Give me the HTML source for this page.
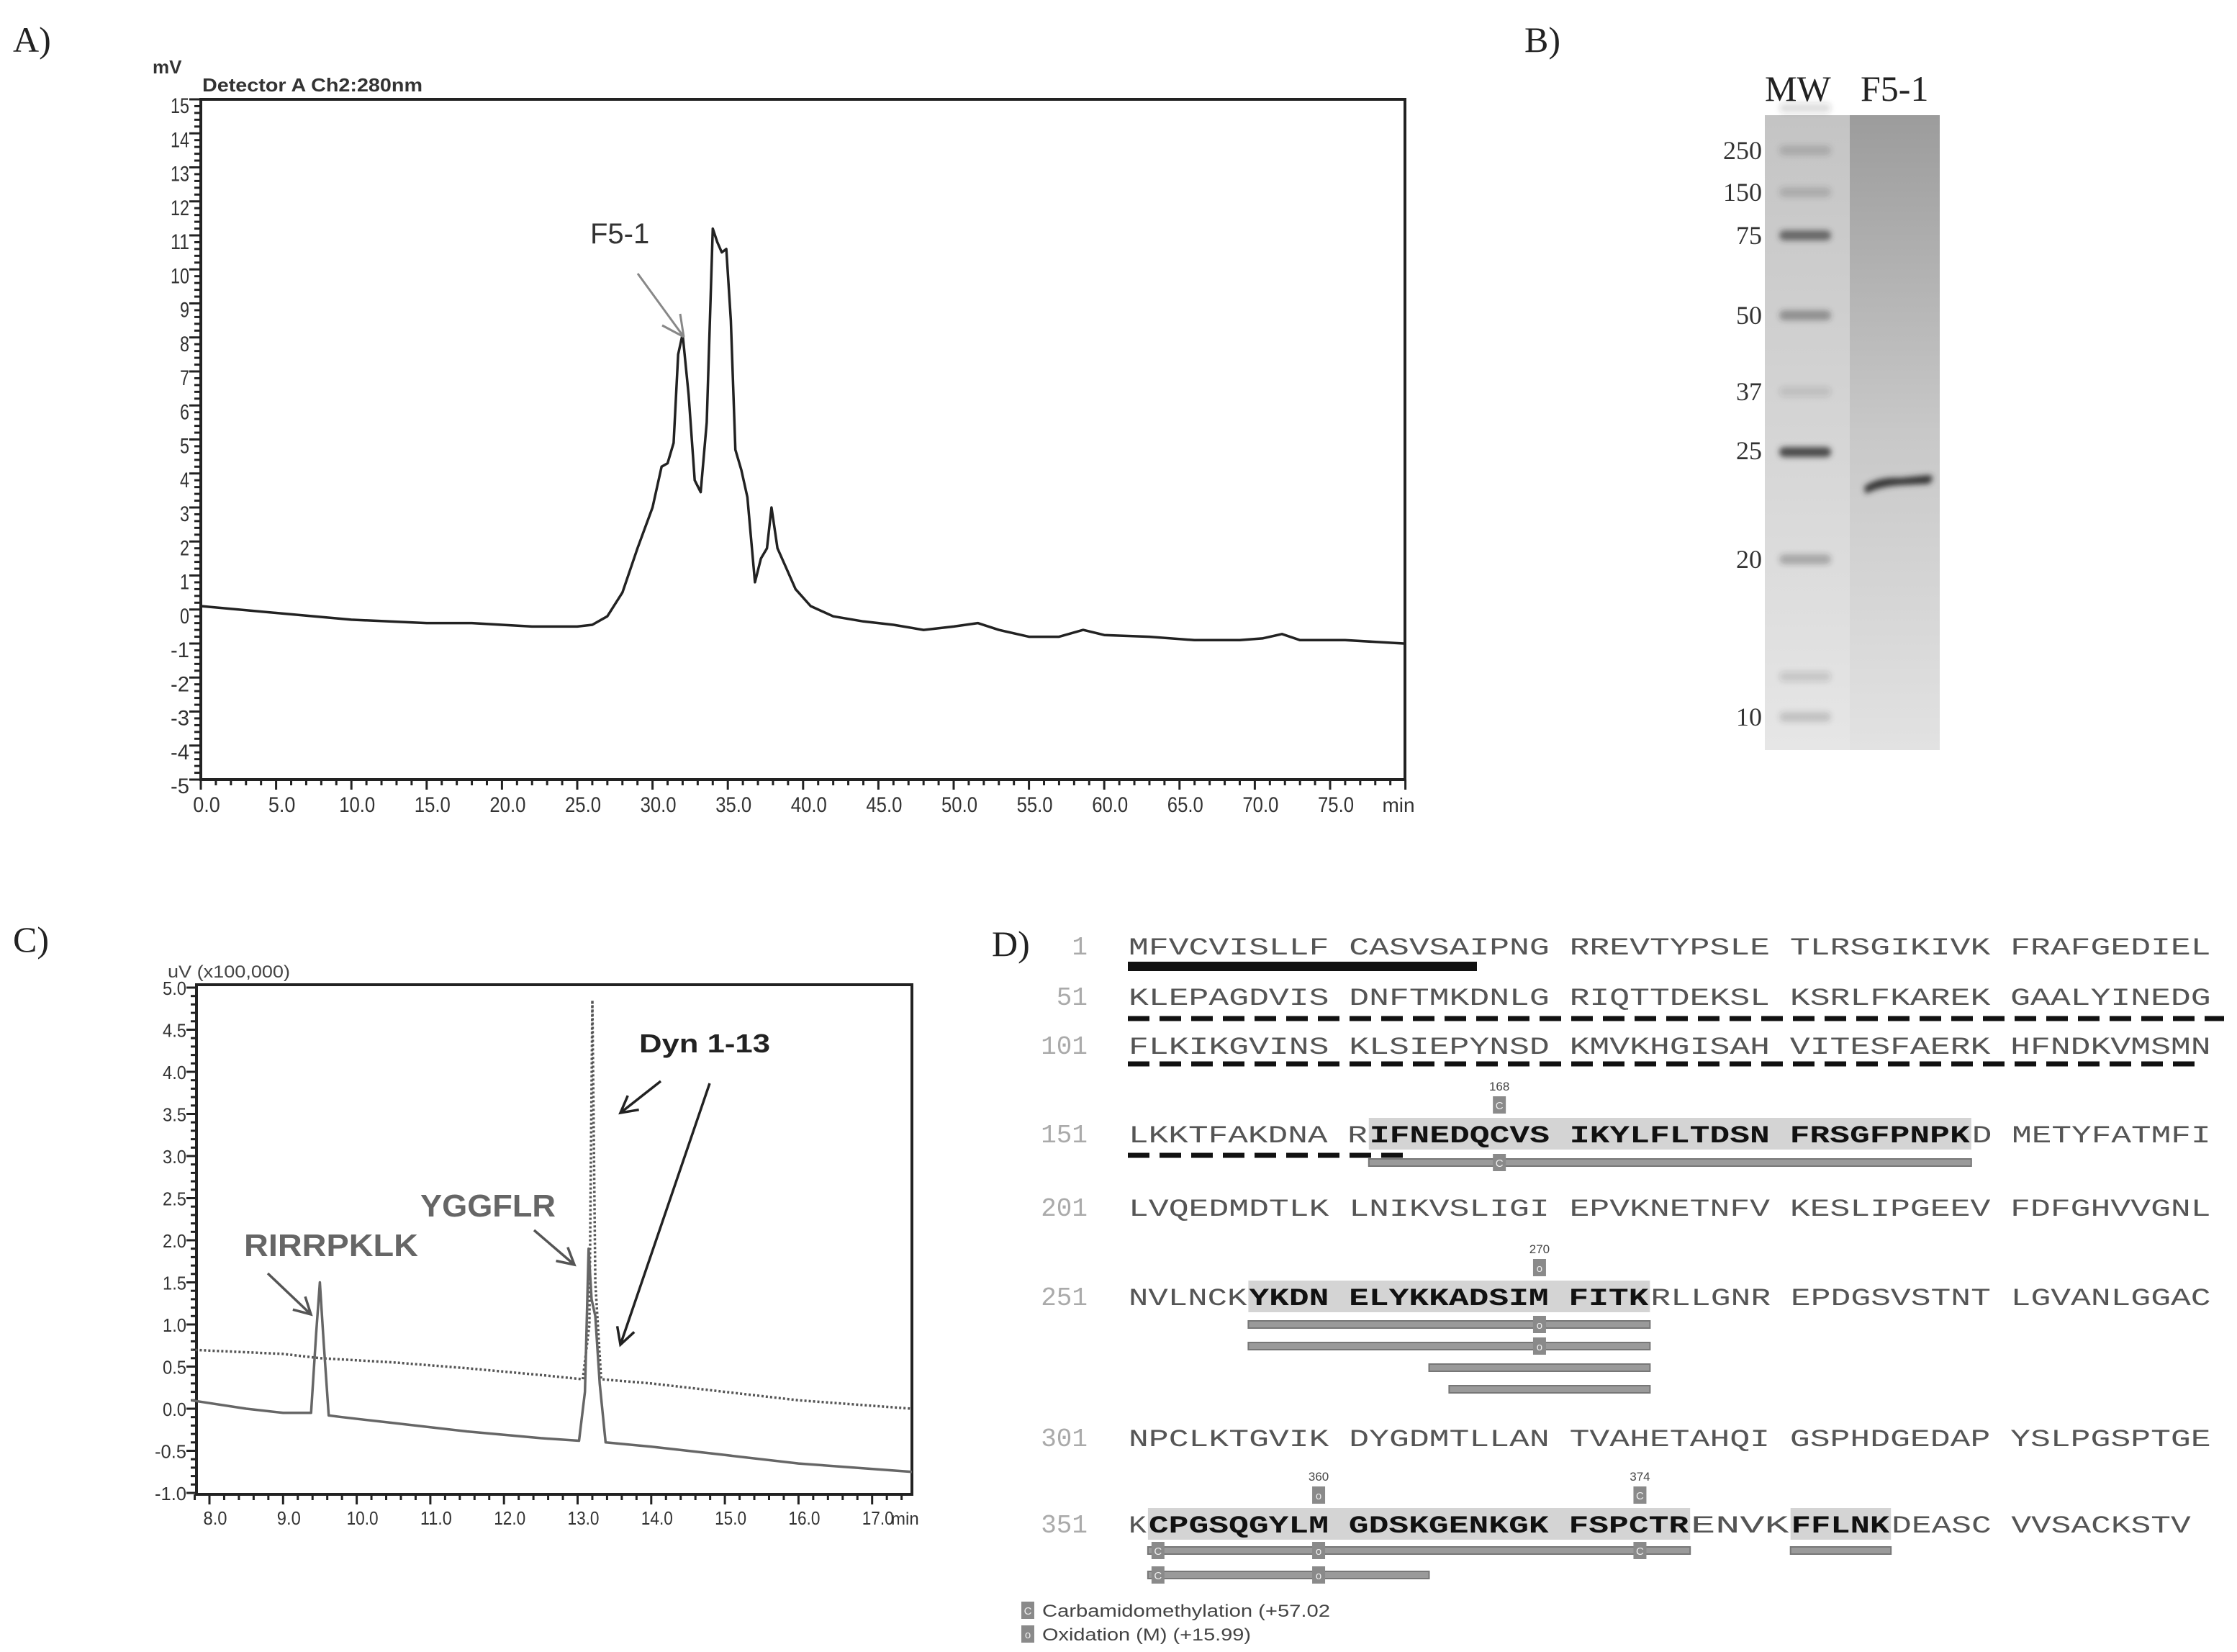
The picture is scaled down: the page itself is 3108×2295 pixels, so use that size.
<!DOCTYPE html>
<html><head><meta charset="utf-8"><style>
html,body{margin:0;padding:0;background:#fff;}
svg{display:block;}
</style></head><body>
<svg id="fig" xmlns="http://www.w3.org/2000/svg" width="3108" height="2295" viewBox="0 0 3108 2295">
<defs>
<linearGradient id="gMW" x1="0" y1="0" x2="0" y2="1"><stop offset="0" stop-color="#c4c4c4"/><stop offset="1" stop-color="#e6e6e6"/></linearGradient>
<linearGradient id="gF5" x1="0" y1="0" x2="0" y2="1"><stop offset="0" stop-color="#9c9c9c"/><stop offset="0.5" stop-color="#c8c8c8"/><stop offset="1" stop-color="#e2e2e2"/></linearGradient>
<filter id="blur" x="-20%" y="-100%" width="140%" height="300%"><feGaussianBlur stdDeviation="4"/></filter>
</defs>
<g id="panelA"></g>
<g id="panelB"></g>
<g id="panelC"></g>
<g id="panelD"></g>
</svg>
<script>
// ---------- Panel A data ----------
const aTimes = [0,5,10,15,18,20,22,25,26,27,28,29,30,30.6,31,31.4,31.7,32,32.4,32.8,33.2,33.6,34,34.3,34.6,34.9,35.2,35.5,35.9,36.3,36.8,37.2,37.6,37.9,38.3,38.8,39.5,40.5,42,44,46,48,50,51.6,53,55,57,58.6,60,63,66,69,70.5,71.8,73,76,79.9];
const aValues = [0.1,-0.1,-0.3,-0.4,-0.4,-0.45,-0.5,-0.5,-0.45,-0.2,0.5,1.8,3.0,4.2,4.3,4.9,7.5,8.1,6.3,3.8,3.45,5.5,11.2,10.8,10.5,10.6,8.5,4.7,4.1,3.3,0.8,1.5,1.8,3.0,1.8,1.3,0.6,0.1,-0.2,-0.35,-0.45,-0.6,-0.5,-0.4,-0.6,-0.8,-0.8,-0.6,-0.75,-0.8,-0.9,-0.9,-0.85,-0.72,-0.9,-0.9,-1.0];
const aYTicks = [-5,-4,-3,-2,-1,0,1,2,3,4,5,6,7,8,9,10,11,12,13,14,15];
const aXTicks = [0,5,10,15,20,25,30,35,40,45,50,55,60,65,70,75];
// ---------- Panel B data ----------
const mwLabels = ["250","150","75","50","37","25","20","10"];
const mwLabelY = [209,267,327,438,544,626,777,996];
const mwBandY = [150,209,267,327,438,544,628,777,940,996];
const mwBandOpacity = [0.15,0.2,0.2,0.65,0.4,0.12,0.85,0.3,0.15,0.2];
// ---------- Panel C data ----------
const cTimes = [7.75,8.5,9.0,9.38,9.45,9.5,9.55,9.62,9.8,10.5,11.5,12.5,13.02,13.1,13.15,13.19,13.24,13.3,13.38,14,15,16,17.55];
const cSolid = [0.1,0.0,-0.05,-0.05,0.9,1.5,0.8,-0.08,-0.1,-0.17,-0.27,-0.35,-0.38,0.2,1.9,1.3,1.1,0.3,-0.4,-0.45,-0.55,-0.65,-0.75];
const cDotTimes = [7.75,9.0,9.5,10.5,11.5,12.5,13.07,13.16,13.2,13.24,13.32,14,15,16,17.55];
const cDotted = [0.7,0.65,0.6,0.55,0.48,0.4,0.35,1.0,4.85,1.5,0.35,0.3,0.2,0.1,0.0];
const cYTicks = [-1.0,-0.5,0.0,0.5,1.0,1.5,2.0,2.5,3.0,3.5,4.0,4.5,5.0];
const cXTicks = [8,9,10,11,12,13,14,15,16,17];
// ---------- Panel D data ----------
const seqNums = ["1","51","101","151","201","251","301","351"];
const seqRows = [
"MFVCVISLLF CASVSAIPNG RREVTYPSLE TLRSGIKIVK FRAFGEDIEL",
"KLEPAGDVIS DNFTMKDNLG RIQTTDEKSL KSRLFKAREK GAALYINEDG",
"FLKIKGVINS KLSIEPYNSD KMVKHGISAH VITESFAERK HFNDKVMSMN",
"LKKTFAKDNA RIFNEDQCVS IKYLFLTDSN FRSGFPNPKD METYFATMFI",
"LVQEDMDTLK LNIKVSLIGI EPVKNETNFV KESLIPGEEV FDFGHVVGNL",
"NVLNCKYKDN ELYKKADSIM FITKRLLGNR EPDGSVSTNT LGVANLGGAC",
"NPCLKTGVIK DYGDMTLLAN TVAHETAHQI GSPHDGEDAP YSLPGSPTGE",
"KCPGSQGYLM GDSKGENKGK FSPCTRENVK FFLNKDEASC VVSACKSTV"];
const rowY = [1314,1384,1452,1575,1677,1801,1997,2117];
const boldRanges = [[3,12,42],[5,6,26],[7,1,28],[7,33,38]];
const pepBars = [[3,12,42,40],[5,6,26,39],[5,6,26,69],[5,15,26,99],[5,16,26,129],[7,1,28,37],[7,33,38,37],[7,1,15,71]];
const mods = [[3,18,"C","168"],[5,20,"O","270"],[7,9,"O","360"],[7,25,"C","374"]];
const modsOnBars = [[3,18,40,"C"],[5,20,39,"O"],[5,20,69,"O"],[7,1,37,"C"],[7,9,37,"O"],[7,25,37,"C"],[7,1,71,"C"],[7,9,71,"O"]];

const NS="http://www.w3.org/2000/svg";
function mk(parent,tag,attrs,text){const e=document.createElementNS(NS,tag);for(const k in attrs)e.setAttribute(k,attrs[k]);if(text!==undefined)e.textContent=text;parent.appendChild(e);return e;}

// ================= PANEL A =================
const A=document.getElementById('panelA');
const aL=279,aR=1952,aT=138,aB=1083;
const ax=t=>aL+t*20.92, ay=v=>aT+(15-v)*47.25;
let t0=mk(A,'text',{x:18,y:72,'font-family':'Liberation Serif, serif','font-size':50,fill:'#222'},'A)');

let u=mk(A,'text',{x:212,y:102,'font-family':'Liberation Sans, sans-serif','font-size':26,'font-weight':'bold',fill:'#333'},'mV');

let dt=mk(A,'text',{x:281,y:127,'font-family':'Liberation Sans, sans-serif','font-size':26,'font-weight':'bold',fill:'#333',textLength:306,lengthAdjust:'spacingAndGlyphs'},'Detector A Ch2:280nm');

let fr=mk(A,'rect',{x:aL,y:aT,width:aR-aL,height:aB-aT,fill:'none',stroke:'#222','stroke-width':4});

for(let v=-5;v<=15.001;v+=0.2){const major=Math.abs(v-Math.round(v))<0.01;mk(A,'line',{x1:aL,x2:aL-(major?16:9),y1:ay(v),y2:ay(v),stroke:'#222','stroke-width':3});}
aYTicks.forEach(v=>{const e=mk(A,'text',{x:aL-16,y:ay(v)+19,'text-anchor':'end','font-family':'Liberation Sans, sans-serif','font-size':30,fill:'#333',textLength:(String(v).length*13),lengthAdjust:'spacingAndGlyphs'},String(v));
});
for(let t=0;t<=80.01;t+=1){const major=t%5===0;mk(A,'line',{x1:ax(t),x2:ax(t),y1:aB,y2:aB+(major?14:8),stroke:'#222','stroke-width':3});}
aXTicks.forEach(t=>{const s=t.toFixed(1);const e=mk(A,'text',{x:ax(t)+8,y:aB+45,'text-anchor':'middle','font-family':'Liberation Sans, sans-serif','font-size':30,fill:'#333',textLength:s.length*12.5,lengthAdjust:'spacingAndGlyphs'},s);
});
let mn=mk(A,'text',{x:1943,y:aB+45,'text-anchor':'middle','font-family':'Liberation Sans, sans-serif','font-size':28,fill:'#333'},'min');

let pd=aTimes.map((t,i)=>(i?'L':'M')+ax(t).toFixed(1)+','+ay(aValues[i]).toFixed(1)).join(' ');
let tr=mk(A,'path',{d:pd,fill:'none',stroke:'#222','stroke-width':3.5,'stroke-linejoin':'round'});

let f5=mk(A,'text',{x:820,y:338,'font-family':'Liberation Sans, sans-serif','font-size':40,fill:'#333'},'F5-1');

let ar=mk(A,'path',{d:'M886,380 L950,468 M950,468 L920,452 M950,468 L945,436',fill:'none',stroke:'#888','stroke-width':3});


// ================= PANEL B =================
const B=document.getElementById('panelB');
let tb=mk(B,'text',{x:2118,y:72,'font-family':'Liberation Serif, serif','font-size':50,fill:'#222'},'B)');

let mwT=mk(B,'text',{x:2452,y:140,'font-family':'Liberation Serif, serif','font-size':50,fill:'#222'},'MW');

let f5T=mk(B,'text',{x:2585,y:140,'font-family':'Liberation Serif, serif','font-size':50,fill:'#222'},'F5-1');

let l1=mk(B,'rect',{x:2452,y:160,width:118,height:882,fill:'url(#gMW)'});

let l2=mk(B,'rect',{x:2570,y:160,width:125,height:882,fill:'url(#gF5)'});

mwBandY.forEach((y,i)=>{const e=mk(B,'rect',{x:2472,y:y-7,width:72,height:14,rx:7,fill:'#333','fill-opacity':mwBandOpacity[i],filter:'url(#blur)'});
});
let sb=mk(B,'path',{d:'M2590,676 Q2610,662 2640,664 L2680,660 Q2690,662 2680,672 L2640,674 Q2610,676 2592,686 Z',fill:'#333',filter:'url(#blur)'});

mwLabels.forEach((s,i)=>{const e=mk(B,'text',{x:2448,y:mwLabelY[i]+12,'text-anchor':'end','font-family':'Liberation Serif, serif','font-size':36,fill:'#333'},s);
});

// ================= PANEL C =================
const C=document.getElementById('panelC');
const cL=273,cR=1267,cT=1368,cB=2076;
const cx=t=>291+(t-8)*102.3, cy=v=>1372+(5-v)*117;
let tc=mk(C,'text',{x:18,y:1322,'font-family':'Liberation Serif, serif','font-size':50,fill:'#222'},'C)');

let cu=mk(C,'text',{x:233,y:1358,'font-family':'Liberation Sans, sans-serif','font-size':24,fill:'#444',textLength:170,lengthAdjust:'spacingAndGlyphs'},'uV (x100,000)');

let cf=mk(C,'rect',{x:cL,y:cT,width:cR-cL,height:cB-cT,fill:'none',stroke:'#222','stroke-width':4});

for(let v=-1;v<=5.001;v+=0.1){const major=Math.abs(v*2-Math.round(v*2))<0.01;mk(C,'line',{x1:cL,x2:cL-(major?14:8),y1:cy(v),y2:cy(v),stroke:'#222','stroke-width':3});}
cYTicks.forEach(v=>{const s=v.toFixed(1);const e=mk(C,'text',{x:cL-14,y:cy(v)+10,'text-anchor':'end','font-family':'Liberation Sans, sans-serif','font-size':26,fill:'#333',textLength:s.length*11,lengthAdjust:'spacingAndGlyphs'},s);
});
for(let t=7.8;t<=17.6;t+=0.2){if(cx(t)>cR)break;const major=Math.abs(t-Math.round(t))<0.01;mk(C,'line',{x1:cx(t),x2:cx(t),y1:cB,y2:cB+(major?14:8),stroke:'#222','stroke-width':3});}
cXTicks.forEach(t=>{const s=t.toFixed(1);const e=mk(C,'text',{x:cx(t)+8,y:cB+42,'text-anchor':'middle','font-family':'Liberation Sans, sans-serif','font-size':26,fill:'#333',textLength:s.length*11,lengthAdjust:'spacingAndGlyphs'},s);
});
let cmn=mk(C,'text',{x:1238,y:cB+42,'font-family':'Liberation Sans, sans-serif','font-size':24,fill:'#333'},'min');

let dp=cDotTimes.map((t,i)=>(i?'L':'M')+Math.min(cx(t),cR).toFixed(1)+','+cy(cDotted[i]).toFixed(1)).join(' ');
let dl=mk(C,'path',{d:dp,fill:'none',stroke:'#555','stroke-width':3.5,'stroke-dasharray':'3 3'});

let sp=cTimes.map((t,i)=>(i?'L':'M')+Math.min(cx(t),cR).toFixed(1)+','+cy(cSolid[i]).toFixed(1)).join(' ');
let sl=mk(C,'path',{d:sp,fill:'none',stroke:'#666','stroke-width':3.5,'stroke-linejoin':'round'});

let r1=mk(C,'text',{x:339,y:1745,'font-family':'Liberation Sans, sans-serif','font-size':44,'font-weight':'bold',fill:'#666',textLength:242,lengthAdjust:'spacingAndGlyphs'},'RIRRPKLK');

let r2=mk(C,'text',{x:584,y:1690,'font-family':'Liberation Sans, sans-serif','font-size':44,'font-weight':'bold',fill:'#666',textLength:188,lengthAdjust:'spacingAndGlyphs'},'YGGFLR');

let r3=mk(C,'text',{x:888,y:1462,'font-family':'Liberation Sans, sans-serif','font-size':36,'font-weight':'bold',fill:'#222',textLength:182,lengthAdjust:'spacingAndGlyphs'},'Dyn 1-13');

function arrow(x1,y1,x2,y2,col,name){const a=Math.atan2(y2-y1,x2-x1),h=26,w=0.5;
const d=`M${x1},${y1} L${x2},${y2} M${x2-h*Math.cos(a-w)},${y2-h*Math.sin(a-w)} L${x2},${y2} L${x2-h*Math.cos(a+w)},${y2-h*Math.sin(a+w)}`;
const e=mk(C,'path',{d:d,fill:'none',stroke:col,'stroke-width':3.5});}
arrow(372,1769,432,1826,'#555','rirrpklk-arrow');
arrow(742,1709,798,1757,'#555','yggflr-arrow');
arrow(918,1502,862,1546,'#222','dyn-arrow-dotted');
arrow(986,1505,862,1868,'#222','dyn-arrow-solid');

// ================= PANEL D =================
const D=document.getElementById('panelD');
const sx0=1567,cw=27.9;
const cxD=i=>sx0+i*cw;
let td=mk(D,'text',{x:1378,y:1328,'font-family':'Liberation Serif, serif','font-size':50,fill:'#222'},'D)');

boldRanges.forEach(r=>{const e=mk(D,'rect',{x:cxD(r[1]),y:rowY[r[0]]-22,width:(r[2]-r[1])*cw,height:44,fill:'#d4d4d4'});
});
seqRows.forEach((row,ri)=>{
 const n=mk(D,'text',{x:1511,y:rowY[ri]+12,'text-anchor':'end','font-family':'Liberation Mono, monospace','font-size':36,fill:'#aaa'},seqNums[ri]);
 
 const bold=new Array(row.length).fill(false);
 boldRanges.filter(r=>r[0]===ri).forEach(r=>{for(let i=r[1];i<r[2];i++)bold[i]=true;});
 let i=0;while(i<row.length){let j=i;while(j<row.length&&bold[j]===bold[i])j++;
  const seg=row.slice(i,j);
  const e=mk(D,'text',{x:cxD(i)+1,y:rowY[ri]+12,'font-family':'Liberation Mono, monospace','font-size':34,'font-weight':bold[i]?'bold':'normal',fill:bold[i]?'#111':'#555',textLength:seg.length*cw-3,lengthAdjust:'spacingAndGlyphs'},seg);
  
  i=j;}
});
let ul=mk(D,'rect',{x:1567,y:1336,width:485,height:13,fill:'#111'});

[[1415,1567,3090],[1478,1567,3060],[1605,1567,1955]].forEach(d=>{const e=mk(D,'line',{x1:d[1],x2:d[2],y1:d[0],y2:d[0],stroke:'#111','stroke-width':7,'stroke-dasharray':'30 14'});
});
pepBars.forEach(b=>{const y=rowY[b[0]]+b[3];
 const e=mk(D,'rect',{x:cxD(b[1]),y:y-5,width:(b[2]-b[1])*cw,height:10,fill:'#9a9a9a',stroke:'#777','stroke-width':2});
 });
function modBox(x,y,t){const e=mk(D,'rect',{x:x-9,y:y-12,width:18,height:24,fill:'#8a8a8a'});

mk(D,'text',{x:x,y:y+6,'text-anchor':'middle','font-family':'Liberation Sans, sans-serif','font-size':15,fill:'#eee'},t==='C'?'C':'o');}
modsOnBars.forEach(m=>modBox(cxD(m[1])+cw/2,rowY[m[0]]+m[2],m[3]));
mods.forEach(m=>{const x=cxD(m[1])+cw/2,y=rowY[m[0]];modBox(x,y-40,m[2]);
 const e=mk(D,'text',{x:x,y:y-60,'text-anchor':'middle','font-family':'Liberation Sans, sans-serif','font-size':17,fill:'#444'},m[3]);
 });
modBox(1428,2237,'C');modBox(1428,2270,'O');
let lg1=mk(D,'text',{x:1448,y:2246,'font-family':'Liberation Sans, sans-serif','font-size':24,fill:'#444',textLength:400,lengthAdjust:'spacingAndGlyphs'},'Carbamidomethylation (+57.02');

let lg2=mk(D,'text',{x:1448,y:2279,'font-family':'Liberation Sans, sans-serif','font-size':24,fill:'#444',textLength:290,lengthAdjust:'spacingAndGlyphs'},'Oxidation (M) (+15.99)');

</script>
</body></html>
